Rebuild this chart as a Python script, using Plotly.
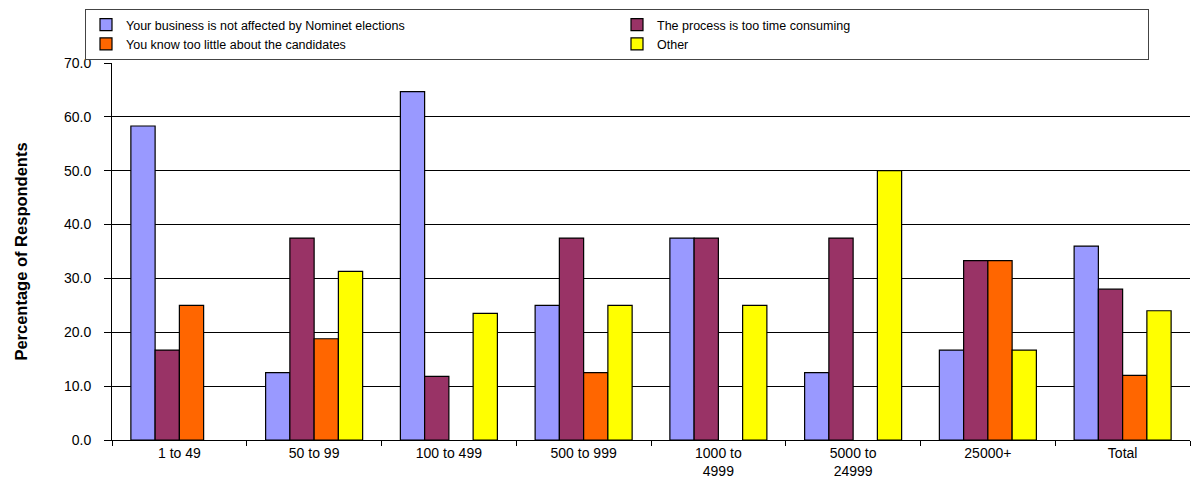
import plotly.graph_objects as go

categories = ["1 to 49", "50 to 99", "100 to 499", "500 to 999",
              "1000 to<br>4999", "5000 to<br>24999", "25000+", "Total"]

not_affected = [58.3, 12.5, 64.7, 25.0, 37.5, 12.5, 16.7, 36.0]
too_time_consuming = [16.7, 37.5, 11.8, 37.5, 37.5, 37.5, 33.3, 28.0]
know_too_little = [25.0, 18.8, 0.0, 12.5, 0.0, 0.0, 33.3, 12.0]
other = [0.0, 31.3, 23.5, 25.0, 25.0, 50.0, 16.7, 24.0]

series = [
    ("Your business is not affected by Nominet elections", not_affected, "#9999FF"),
    ("The process is too time consuming", too_time_consuming, "#993366"),
    ("You know too little about the candidates", know_too_little, "#FF6600"),
    ("Other", other, "#FFFF00"),
]

fig = go.Figure()
for name, vals, col in series:
    # zero values are simply not drawn (no outline stub)
    fig.add_trace(go.Bar(
        x=categories, y=[v if v else None for v in vals], name=name,
        marker=dict(color=col, line=dict(color="black", width=1.2)),
    ))

# page body has an 8px margin, so the figure is a bit smaller than the window
fig.update_layout(
    width=1191, height=478,
    barmode="group", bargap=0.28, bargroupgap=0,
    plot_bgcolor="white", paper_bgcolor="white",
    font=dict(family="Liberation Sans, Arial, sans-serif", size=13, color="black"),
    margin=dict(l=104, r=9, t=55, b=46),
    legend=dict(
        orientation="h", xref="container", x=77 / 1191, xanchor="left",
        yref="container", y=1 - 1 / 478, yanchor="top",
        entrywidth=486, entrywidthmode="pixels",
        bordercolor="#444444", borderwidth=1,
        font=dict(size=12.5), tracegroupgap=0,
        traceorder="normal",
    ),
)

fig.update_yaxes(
    range=[0, 70], dtick=10, tickformat=".1f",
    showgrid=True, gridcolor="black", gridwidth=1,
    showline=True, linecolor="black", linewidth=1,
    ticks="outside", ticklen=7, tickcolor="black", ticklabelstandoff=10,
    zeroline=False, automargin=False,
    title=dict(text="<b>Percentage of Respondents</b>", font=dict(size=16.5), standoff=32),
    tickfont=dict(size=14),
)
fig.update_xaxes(
    showline=True, linecolor="black", linewidth=1,
    ticks="outside", ticklen=5, tickcolor="black", tickson="boundaries",
    tickfont=dict(size=14), automargin=False,
)

fig.write_html("out.html")
